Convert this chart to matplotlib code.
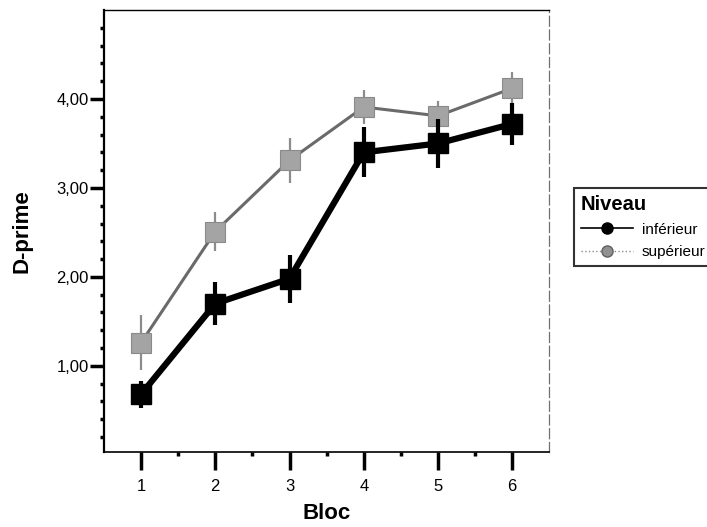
import matplotlib
matplotlib.use("Agg")
import matplotlib.pyplot as plt
from matplotlib.lines import Line2D
from matplotlib.ticker import FixedLocator, FuncFormatter

plt.rcParams['font.family'] = ['Liberation Sans', 'DejaVu Sans']

# D-prime par bloc, moyenne et demi-intervalle
blocs = [1, 2, 3, 4, 5, 6]
inferieur = [0.68, 1.70, 1.98, 3.40, 3.50, 3.72]
inferieur_err = [0.15, 0.24, 0.27, 0.28, 0.28, 0.24]
superieur = [1.26, 2.51, 3.31, 3.91, 3.81, 4.12]
superieur_err = [0.31, 0.22, 0.25, 0.19, 0.17, 0.18]

fig = plt.figure(figsize=(7.07, 5.27), dpi=100)
ax = fig.add_axes([0.147, 0.142, 0.630, 0.839])

grey = '#8c8c8c'

# niveau supérieur : trait fin gris, pointillés
ax.errorbar(blocs, superieur, yerr=superieur_err, fmt='none',
            ecolor=grey, elinewidth=1.6, capsize=0, zorder=2)
ax.plot(blocs, superieur, color='#6a6a6a', lw=2.2, zorder=2)
ax.plot(blocs, superieur, linestyle='none', marker='s', ms=14,
        mfc='#a4a4a4', mec='#8a8a8a', mew=0.8, zorder=3)

# niveau inférieur : trait épais noir
ax.errorbar(blocs, inferieur, yerr=inferieur_err, fmt='none',
            ecolor='black', elinewidth=3.0, capsize=0, zorder=4)
ax.plot(blocs, inferieur, color='black', lw=4.5, zorder=4,
        marker='s', ms=15, mfc='black', mec='black')

ax.set_xlim(0.5, 6.5)
ax.set_ylim(0.03, 5.0)

ax.set_xticks(blocs)
ax.xaxis.set_minor_locator(FixedLocator([1.5, 2.5, 3.5, 4.5, 5.5]))
ax.set_yticks([1, 2, 3, 4])
ax.yaxis.set_minor_locator(FixedLocator(
    [v / 5 for v in range(1, 25) if v % 5 != 0]))
ax.yaxis.set_major_formatter(FuncFormatter(
    lambda v, p: '{:.2f}'.format(v).replace('.', ',')))

ax.tick_params(axis='x', which='major', length=13, width=2.5,
               labelsize=12, pad=6)
ax.tick_params(axis='y', which='major', length=10, width=2.5,
               labelsize=12, pad=1)
ax.tick_params(which='minor', length=3, width=2.5)

ax.set_xlabel('Bloc', fontsize=16, fontweight='bold', labelpad=7)
ax.set_ylabel('D-prime', fontsize=16, fontweight='bold', labelpad=17)

# cadre : gauche et bas pleins, haut fin, droite grise discontinue
ax.spines['left'].set_linewidth(1.6)
ax.spines['bottom'].set_linewidth(1.2)
ax.spines['top'].set_linewidth(1.0)
ax.spines['right'].set_linewidth(0.9)
ax.spines['right'].set_color('#707070')
ax.spines['right'].set_linestyle((0, (8, 3)))

handles = [
    Line2D([], [], color='black', lw=1.2, marker='o', ms=8,
           mfc='black', mec='black'),
    Line2D([], [], color=grey, lw=1.0, linestyle=':', marker='o', ms=8,
           mfc='#909090', mec='#606060'),
]
leg = fig.legend(handles, ['inférieur', 'supérieur'], title='Niveau',
                 loc='upper left', bbox_to_anchor=(0.801, 0.657),
                 fontsize=11, title_fontsize=14.5, frameon=True,
                 fancybox=False, edgecolor='black', handlelength=3.4,
                 handletextpad=0.6, borderpad=0.45, labelspacing=0.55,
                 alignment='left')
leg.get_title().set_fontweight('bold')
leg.get_frame().set_linewidth(1.5)

fig.savefig('out.png', dpi=100)
